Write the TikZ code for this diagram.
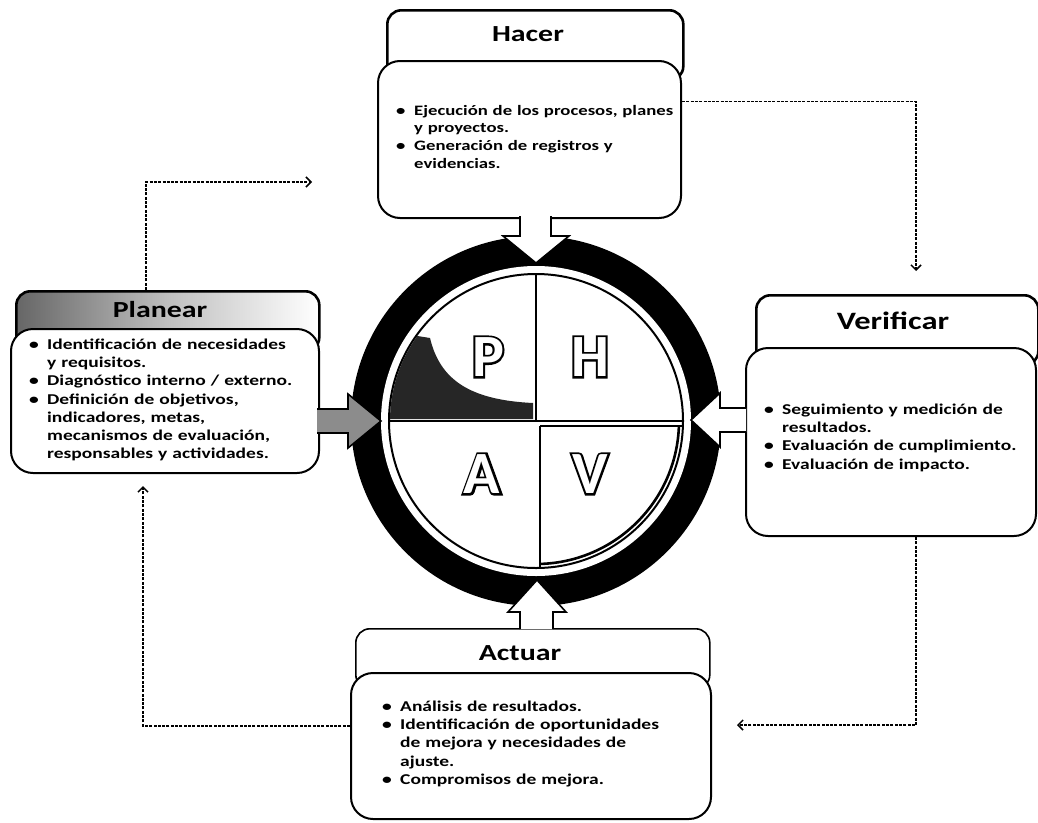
\documentclass[tikz,border=0pt]{standalone}
\usepackage{fontspec}
\setmainfont{Carlito}[FakeStretch=1.3]
\newfontfamily\letfont{Carlito}
\newfontfamily\letfontthick{Carlito}[FakeBold=7]
\usetikzlibrary{arrows.meta}
\newcommand{\bitem}[1]{\par\hangindent=18pt\hangafter=1\noindent\makebox[18pt][l]{\textbullet}#1}
\newcommand{\olet}[3]{%
  \node[font=\letfontthick\fontsize{60}{60}\selectfont\bfseries,text=black] at (#1) {#3};
  \node[font=\letfont\fontsize{60}{60}\selectfont\bfseries,text=white] (#2) at (#1) {#3};}
\tikzset{
  hdr/.style={draw=black, line width=2.6pt, fill=white, rounded corners=14pt, inner sep=0pt},
  bodybox/.style={draw=black, line width=2pt, fill=white, rounded corners=22pt, inner sep=0pt, anchor=north west},
  conn/.style={line width=1.7pt, dash pattern=on 3pt off 1.3pt, -{Straight Barb[length=5pt,width=10pt,line width=1.5pt]}},
  blockarrow/.style={draw=black, line width=1.6pt, fill=white, line join=miter},
  ttl/.style={font=\fontsize{23}{26}\selectfont\bfseries, inner sep=0pt},
  btext/.style={font=\fontsize{15}{18.2}\selectfont\bfseries, align=left, anchor=north west, inner sep=0pt, text width=#1},
}
\begin{document}
\begin{tikzpicture}[x=1pt,y=-1pt]
\useasboundingbox[fill=white] (0,0) rectangle (1038,822);

% ---- Hacer
\node[hdr, minimum width=296pt, minimum height=70pt, anchor=north west] (hacH) at (386,9) {};
\node[bodybox, minimum width=303pt, minimum height=157pt] (hacB) at (377,60) {};
\node[ttl] (hacT) at (528,34) {Hacer};
\node[btext=330pt, font=\fontsize{14.4}{17.8}\selectfont\bfseries] (hacX) at (396,97) {\bitem{Ejecución de los procesos, planes\newline y proyectos.}\bitem{Generación de registros y\newline evidencias.}\par};

% ---- Planear
\node[hdr, minimum width=303pt, minimum height=60pt, anchor=north west,
      left color=black!60, right color=white, middle color=black!25] (plaH) at (15,290) {};
\node[bodybox, minimum width=308pt, minimum height=144pt] (plaB) at (10,328) {};
\node[ttl] (plaT) at (160,310) {Planear};
\node[btext=330pt] (plaX) at (29,331) {\bitem{Identificación de necesidades\newline y requisitos.}\bitem{Diagnóstico interno / externo.}\bitem{Definición de objetivos,\newline indicadores, metas,\newline mecanismos de evaluación,\newline responsables y actividades.}\par};

% ---- Verificar
\node[hdr, minimum width=282pt, minimum height=70pt, anchor=north west] (verH) at (755,294) {};
\node[bodybox, minimum width=290pt, minimum height=188pt] (verB) at (745,347) {};
\node[ttl, font=\fontsize{25}{28}\selectfont\bfseries] (verT) at (893,321) {Verificar};
\node[btext=330pt] (verX) at (764,396) {\bitem{Seguimiento y medición de\newline resultados.}\bitem{Evaluación de cumplimiento.}\bitem{Evaluación de impacto.}\par};

% ---- Actuar
\node[hdr, line width=1.6pt, minimum width=354pt, minimum height=60pt, anchor=north west] (actH) at (355,628) {};
\node[bodybox, minimum width=360pt, minimum height=146pt] (actB) at (350,672) {};
\node[ttl] (actT) at (520,653) {Actuar};
\node[btext=340pt] (actX) at (382,693) {\bitem{Análisis de resultados.}\bitem{Identificación de oportunidades\newline de mejora y necesidades de\newline ajuste.}\bitem{Compromisos de mejora.}\par};

% ---- PDCA circle
\node[circle, fill=black, minimum size=370pt, inner sep=0pt] (ring) at (536,421) {};
\node[circle, fill=white, minimum size=310pt, inner sep=0pt] (gap) at (ring.center) {};
\node[circle, draw=black, line width=2pt, fill=white, minimum size=294pt, inner sep=0pt] (disc) at (ring.center) {};
\begin{scope}
  \clip (536,421) circle (146pt);
  \fill[black!85] (380,330) -- (430,338) .. controls (440,380) and (470,400) .. (533,403) -- (533,419) -- (380,419) -- cycle;
  \draw[line width=1.6pt] (380,421) -- (700,421);
  \draw[line width=1.6pt] (536,260) -- (536,421);
  \draw[line width=2.6pt] (540,426) -- (700,426);
  \draw[line width=2.6pt] (540,426) -- (540,600);
\end{scope}
\begin{scope}
  \clip (539,425) rectangle (700,600);
  \draw[line width=2.6pt] (536,421) circle (143pt);
\end{scope}
\olet{488,357}{lP}{P}
\olet{590,357}{lH}{H}
\olet{482,474}{lA}{A}
\olet{590,474}{lV}{V}

% ---- block arrows into the circle
\draw[blockarrow] (520,216) -- (520,236) -- (503,236) -- (536,263) -- (569,236) -- (551,236) -- (551,216);
\draw[blockarrow, fill=black!45] (317,409) -- (348,409) -- (348,394) -- (381,421) -- (348,448) -- (348,433) -- (317,433);
\draw[blockarrow] (746,408) -- (720,408) -- (720,393) -- (691,420) -- (720,447) -- (720,432) -- (746,432);
\draw[blockarrow] (520,629) -- (520,612) -- (508,612) -- (537,580) -- (566,612) -- (553,612) -- (553,629);

% ---- dashed cycle connectors
\coordinate (e1) at (312,182);
\coordinate (e2) at (916,271);
\coordinate (e3) at (737,725);
\coordinate (e4) at (143,486);
\draw[conn] ([xshift=-22pt]plaH.north) |- (e1);
\draw[conn] ([yshift=38pt]hacB.east) -| (e2);
\draw[conn] ([xshift=25pt]verB.south) |- (e3);
\draw[conn] ([yshift=20pt]actB.west) -| (e4);
\end{tikzpicture}
\end{document}
